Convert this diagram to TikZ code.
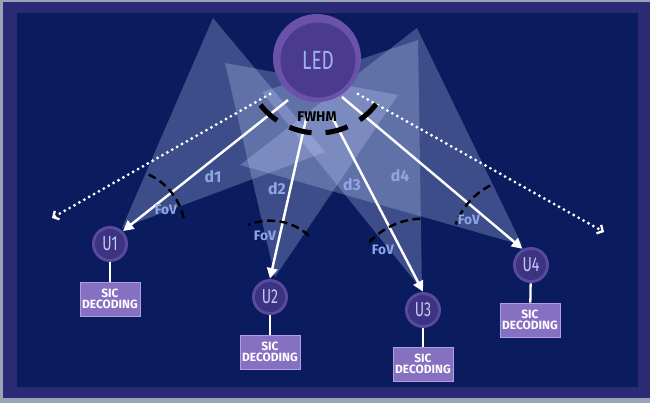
\documentclass[tikz,border=0pt]{standalone}
\usepackage{fontspec}
\setmainfont{Fira Sans}
\usepackage{graphicx}
\usetikzlibrary{arrows.meta}
\definecolor{edgegray}{HTML}{9AA4B8}
\definecolor{framec}{HTML}{2C2A74}
\definecolor{navy}{HTML}{0A1B5E}
\definecolor{beamc}{HTML}{C4D4FF}
\definecolor{ledouter}{HTML}{6A52AA}
\definecolor{ledinner}{HTML}{4B3B8F}
\definecolor{ledtext}{HTML}{9DB2F2}
\definecolor{userouter}{HTML}{5A4A9E}
\definecolor{userinner}{HTML}{3C3383}
\definecolor{usertext}{HTML}{C8C8F2}
\definecolor{sicfill}{HTML}{8570C2}
\definecolor{sicborder}{HTML}{B0A0E0}
\definecolor{lblue}{HTML}{8FA6E6}
\begin{document}
\begin{tikzpicture}[x=0.02cm,y=-0.02cm,
  beam/.style={fill=beamc,fill opacity=0.27},
  userout/.style={circle,fill=userouter,minimum size=0.72cm,inner sep=0pt},
  userin/.style={circle,fill=userinner,minimum size=0.6cm,inner sep=0pt,text=usertext,font=\fontsize{11.5}{12}\selectfont},
  sicbox/.style={rectangle,fill=sicfill,draw=sicborder,line width=0.5pt,minimum width=1.2cm,minimum height=0.68cm,inner sep=0pt,align=center,text=white,font=\bfseries\fontsize{6.8}{6.3}\selectfont},
  link/.style={draw=white,line width=1.3pt},
  ray/.style={draw=white,line width=1.4pt,-{Triangle[length=6pt,width=6pt]}},
  dotray/.style={draw=white,line width=1.8pt,line cap=round,dash pattern=on 0pt off 3.2pt,-{Straight Barb[length=2.5pt,width=5.5pt,line width=1.3pt]}},
  fovarc/.style={draw=black,line width=1.4pt,dash pattern=on 4.5pt off 2.6pt},
  fwhmarc/.style={draw=black,line width=2.9pt,dash pattern=on 13pt off 8pt},
  dlabel/.style={text=lblue,font=\bfseries\fontsize{9}{9}\selectfont,inner sep=0pt},
  fovlabel/.style={text=lblue,font=\bfseries\fontsize{7.8}{8}\selectfont,inner sep=0pt}
]
\useasboundingbox (0,0) rectangle (650,403);
% background and frame
\fill[edgegray] (0,0) rectangle (650,403);
\fill[framec] (3,2) rectangle (650,398);
\fill[navy] (17,13) rectangle (638,387);
% light cones
\fill[beam] (122,228) -- (213,18) -- (325,152) -- cycle;
\fill[beam] (275,277) -- (225,63) -- (398,95) -- cycle;
\fill[beam] (422,290) -- (262,92) -- (418,40) -- cycle;
\fill[beam] (522,245) -- (417,28) -- (240,165) -- cycle;
% LED
\node[circle,fill=ledouter,minimum size=1.76cm,inner sep=0pt] (led) at (317,58) {};
\node[circle,fill=ledinner,minimum size=1.5cm,inner sep=0pt,text=ledtext,font=\fontsize{15}{16}\selectfont] (ledin) at (318,60) {\scalebox{0.72}[1]{LED}};
% users
\node[userout] (u1) at (110,244) {};
\node[userin] (u1in) at (u1) {\scalebox{0.7}[1]{U1}};
\node[userout] (u2) at (270,297) {};
\node[userin] (u2in) at (u2) {\scalebox{0.7}[1]{U2}};
\node[userout] (u3) at (423,310) {};
\node[userin] (u3in) at (u3) {\scalebox{0.7}[1]{U3}};
\node[userout] (u4) at (531,265) {};
\node[userin] (u4in) at (u4) {\scalebox{0.7}[1]{U4}};
% SIC boxes
\node[sicbox] (s1) at (110,299) {SIC\\DECODING};
\node[sicbox] (s2) at (270,352) {SIC\\DECODING};
\node[sicbox] (s3) at (423,364) {SIC\\DECODING};
\node[sicbox] (s4) at (530,320) {SIC\\DECODING};
\draw[link] (u1) -- (s1);
\draw[link] (u2) -- (s2);
\draw[link] (u3) -- (s3);
\draw[link] (u4) -- (s4);
% ray start points
\coordinate (r1) at (288,100);
\coordinate (r2) at (307,115);
\coordinate (r3) at (331,115);
\coordinate (r4) at (342,97);
\coordinate (dl0) at (270,94);
\coordinate (dl1) at (52,218);
\coordinate (dr0) at (358,94);
\coordinate (dr1) at (604,232);
% dotted edge rays
\draw[dotray] (dl0) -- (dl1);
\draw[dotray] (dr0) -- (dr1);
% rays to users
\draw[ray] (r1) -- (u1.north east);
\draw[ray] (r2) -- (u2.north);
\draw[ray] (r3) -- (u3.north);
\draw[ray] (r4) -- (u4.118);
% FoV arcs
\draw[fovarc] (u1.north east) ++(12:1.24cm) arc[start angle=12,end angle=67,radius=1.24cm];
\draw[fovarc] (u2.north) ++(48:1.16cm) arc[start angle=48,end angle=112,radius=1.16cm];
\draw[fovarc] (u3.north) ++(92:1.46cm) arc[start angle=92,end angle=138,radius=1.46cm];
\draw[fovarc] (u4.118) ++(117:1.42cm) arc[start angle=117,end angle=160,radius=1.42cm];
% FWHM arc
\draw[fwhmarc] (ledin.center) ++(218:1.46cm) arc[start angle=218,end angle=323,radius=1.46cm];
\node[text=black,font=\bfseries\fontsize{8}{9}\selectfont,inner sep=0pt] (fwhm) at (317,117) {FWHM};
% labels
\node[dlabel] (d1) at (213,177) {d1};
\node[dlabel] (d2) at (277,189) {d2};
\node[dlabel] (d3) at (352,185) {d3};
\node[dlabel] (d4) at (400,176) {d4};
\node[fovlabel] (f1) at (166,210) {FoV};
\node[fovlabel] (f2) at (265,236) {FoV};
\node[fovlabel] (f3) at (383,250) {FoV};
\node[fovlabel] (f4) at (469,220) {FoV};
\end{tikzpicture}
\end{document}
